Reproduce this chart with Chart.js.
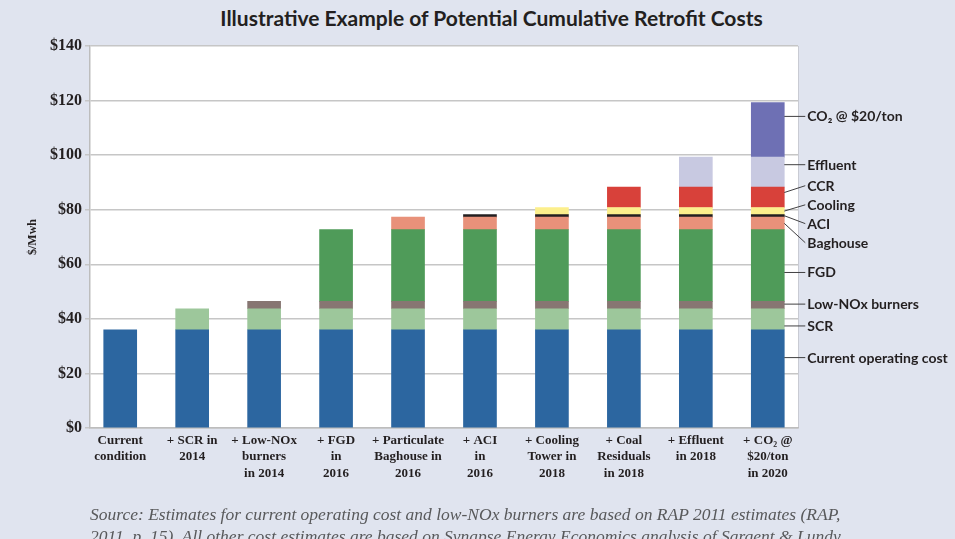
<!DOCTYPE html>
<html>
<head>
<meta charset="utf-8">
<title>Cumulative Retrofit Costs</title>
<script src="https://cdn.jsdelivr.net/npm/chart.js@4"></script>
<style>
  html, body { margin: 0; padding: 0; }
  body { width: 955px; height: 539px; background: #e0e4ef; position: relative; overflow: hidden; }
  #title { position: absolute; left: 0; top: 5px; width: 983px; text-align: center;
           font: 700 21px Lato, sans-serif; color: #231f20; }
  #chart { position: absolute; left: 0; top: 0; }
  #source { position: absolute; left: 90px; top: 503px; white-space: nowrap;
            font: italic 17.5px "Liberation Serif", serif; line-height: 22px; color: #58595b; }
</style>
</head>
<body>
<div id="title">Illustrative Example of Potential Cumulative Retrofit Costs</div>
<canvas id="chart" width="955" height="539"></canvas>
<div id="source">Source: Estimates for current operating cost and low-NOx burners are based on RAP 2011 estimates (RAP,<br>2011, p. 15). All other cost estimates are based on Synapse Energy Economics analysis of Sargent &amp; Lundy</div>
<script>
// bars along the x axis: each one adds a retrofit on top of the previous
const categories = [
  ['Current', 'condition'],
  ['+ SCR in', '2014'],
  ['+ Low-NOx', 'burners', 'in 2014'],
  ['+ FGD', 'in', '2016'],
  ['+ Particulate', 'Baghouse in', '2016'],
  ['+ ACI', 'in', '2016'],
  ['+ Cooling', 'Tower in', '2018'],
  ['+ Coal', 'Residuals', 'in 2018'],
  ['+ Effluent', 'in 2018'],
  ['+ CO₂ @', '$20/ton', 'in 2020']
];

// cost components, stacked bottom to top ($/MWh)
const components = ['Current operating cost', 'SCR', 'Low-NOx burners', 'FGD', 'Baghouse',
                    'ACI', 'Cooling', 'CCR', 'Effluent', 'CO₂ @ $20/ton'];
const componentCost = [36, 7.7, 2.7, 26.3, 4.6, 0.9, 2.6, 7.5, 11, 20];
// index of the first bar that carries each component
const firstBar = [0, 1, 2, 3, 4, 5, 6, 7, 8, 9];

const yTicks = { min: 0, max: 140, step: 20 };

const colors = ['#2c66a0', '#9dc79b', '#877672', '#4f9b59', '#e8917a',
                '#231f20', '#fcef8c', '#d8413a', '#c8c9e1', '#6e70b4'];

// where the side labels sit and where their leader lines touch the last bar ($ units)
const labelAt    = [25.8, 37.4, 45.4, 57, 67.9, 74.9, 81.8, 88.8, 96.5, 114.2];
const leaderFrom = [25.8, 37.4, 45.4, 57, 75.0, 77.8, 79.5, 86.3, 96.5, 114.2];

const datasets = components.map((name, j) => ({
  label: name,
  data: categories.map((_, i) => ({ x: i, y: i >= firstBar[j] ? componentCost[j] : null })),
  backgroundColor: colors[j],
  borderWidth: 0,
  barThickness: 33
}));

const plotBackground = {
  id: 'plotBackground',
  beforeDraw(chart) {
    const { ctx, chartArea: a } = chart;
    ctx.save();
    ctx.fillStyle = '#ffffff';
    ctx.fillRect(a.left, a.top, a.right - a.left, a.bottom - a.top);
    ctx.strokeStyle = '#c9cbd3';
    ctx.lineWidth = 1;
    ctx.beginPath();
    ctx.moveTo(a.right + 0.5, a.top);
    ctx.lineTo(a.right + 0.5, a.bottom);
    ctx.stroke();
    ctx.restore();
  }
};

const sideLabels = {
  id: 'sideLabels',
  afterDatasetsDraw(chart) {
    const { ctx } = chart;
    const y = chart.scales.y;
    const bars = chart.getDatasetMeta(0).data;
    const last = bars[bars.length - 1];
    const x0 = last.x + last.width / 2;
    ctx.save();
    ctx.font = '700 14px Lato, sans-serif';
    ctx.fillStyle = '#231f20';
    ctx.strokeStyle = '#414042';
    ctx.lineWidth = 1;
    ctx.textBaseline = 'middle';
    components.forEach((name, i) => {
      const ya = y.getPixelForValue(leaderFrom[i]);
      const yl = y.getPixelForValue(labelAt[i]);
      ctx.beginPath();
      ctx.moveTo(x0, ya);
      ctx.lineTo(x0 + 21, yl);
      ctx.stroke();
      ctx.fillText(name, x0 + 23, yl + 0.5);
    });
    ctx.restore();
  }
};

new Chart(document.getElementById('chart'), {
  type: 'bar',
  data: { datasets },
  plugins: [plotBackground, sideLabels],
  options: {
    responsive: false,
    animation: false,
    layout: { padding: { top: 46, right: 157, bottom: 0, left: 0 } },
    plugins: { legend: { display: false }, tooltip: { enabled: false }, title: { display: false } },
    scales: {
      x: {
        type: 'linear',
        stacked: true,
        offset: false,
        bounds: 'data',
        min: -0.42,
        max: 9.42,
        afterBuildTicks: s => { s.ticks = categories.map((_, i) => ({ value: i })); },
        afterFit: s => { s.height = 111; },
        grid: { display: false, drawTicks: false },
        border: { color: '#bdbdbd', width: 1.5 },
        ticks: {
          autoSkip: false,
          maxRotation: 0,
          padding: 4,
          color: '#231f20',
          font: { family: 'Liberation Serif', weight: 'bold', size: 13, lineHeight: 1.28 },
          callback: v => categories[v]
        }
      },
      y: {
        stacked: true,
        min: yTicks.min,
        max: yTicks.max,
        afterFit: s => { s.width = 90; },
        grid: { color: '#c6c6c6', lineWidth: 1.5, tickLength: 5 },
        border: { color: '#bdbdbd', width: 1.5 },
        ticks: {
          stepSize: yTicks.step,
          padding: 3,
          color: '#231f20',
          font: { family: 'Liberation Serif', weight: 'bold', size: 16 },
          callback: v => '$' + v
        },
        title: {
          display: true,
          text: '$/Mwh',
          color: '#231f20',
          font: { family: 'Liberation Serif', weight: 'bold', size: 12 },
          padding: { top: 26, bottom: 0 }
        }
      }
    }
  }
});
</script>
</body>
</html>
